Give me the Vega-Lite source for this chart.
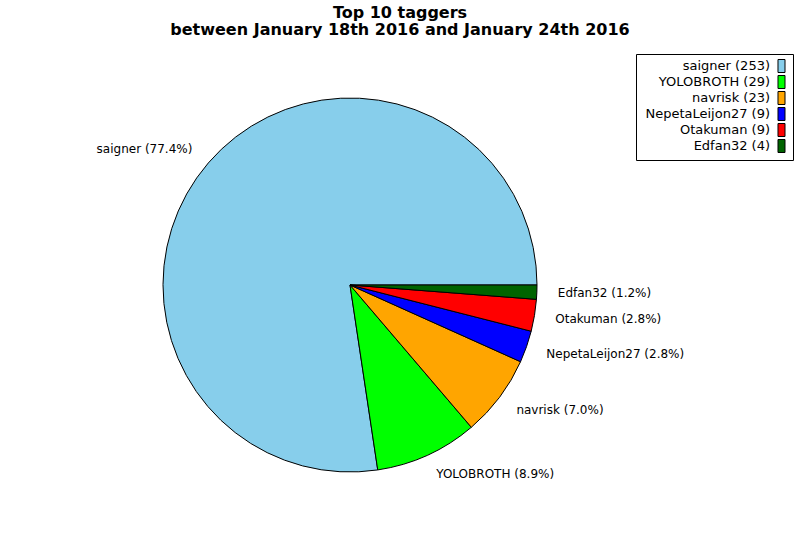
{
  "$schema": "https://vega.github.io/schema/vega-lite/v6.json",
  "autosize": {"type": "none"},
  "padding": {"left": 0, "top": 30, "right": 100, "bottom": 0},
  "width": 700,
  "height": 510,
  "background": "white",
  "title": {
    "text": ["Top 10 taggers", "between January 18th 2016 and January 24th 2016"],
    "font": "DejaVu Sans",
    "fontSize": 16,
    "fontWeight": "bold",
    "lineHeight": 17,
    "color": "black",
    "anchor": "middle",
    "dx": 50,
    "offset": -8
  },
  "data": {
    "values": [
      {"name": "saigner", "count": 253, "rank": 1, "legend": "saigner (253)", "label": "saigner (77.4%)"},
      {"name": "YOLOBROTH", "count": 29, "rank": 2, "legend": "YOLOBROTH (29)", "label": "YOLOBROTH (8.9%)"},
      {"name": "navrisk", "count": 23, "rank": 3, "legend": "navrisk (23)", "label": "navrisk (7.0%)"},
      {"name": "NepetaLeijon27", "count": 9, "rank": 4, "legend": "NepetaLeijon27 (9)", "label": "NepetaLeijon27 (2.8%)"},
      {"name": "Otakuman", "count": 9, "rank": 5, "legend": "Otakuman (9)", "label": "Otakuman (2.8%)"},
      {"name": "Edfan32", "count": 4, "rank": 6, "legend": "Edfan32 (4)", "label": "Edfan32 (1.2%)"}
    ]
  },
  "encoding": {
    "theta": {"field": "count", "type": "quantitative", "stack": true,
      "scale": {"range": [7.853981633974483, 1.5707963267948966]}},
    "order": {"field": "rank", "type": "quantitative", "sort": "ascending"}
  },
  "layer": [
    {
      "mark": {"type": "arc", "outerRadius": 187, "stroke": "black", "strokeWidth": 1},
      "encoding": {
        "color": {
          "field": "legend", "type": "nominal",
          "scale": {
            "domain": ["saigner (253)", "YOLOBROTH (29)", "navrisk (23)", "NepetaLeijon27 (9)", "Otakuman (9)", "Edfan32 (4)"],
            "range": ["#87CEEB", "#00FF00", "#FFA500", "#0000FF", "#FF0000", "#006400"]
          },
          "legend": {
            "title": null,
            "orient": "none",
            "legendX": 636,
            "legendY": 24,
            "strokeColor": "black",
            "fillColor": "white",
            "padding": 5,
            "labelFont": "DejaVu Sans",
            "labelFontSize": 13,
            "labelColor": "black",
            "labelAlign": "right",
            "labelOffset": -18.5,
            "labelLimit": 300,
            "symbolOffset": 133.5,
            "symbolType": "M-0.54,-1H0.54V1H-0.54Z",
            "symbolSize": 169,
            "symbolStrokeColor": "black",
            "symbolStrokeWidth": 1,
            "symbolOpacity": 1,
            "rowPadding": -3
          }
        }
      }
    },
    {
      "mark": {
        "type": "text",
        "radius": 208,
        "font": "DejaVu Sans",
        "fontSize": 12,
        "color": "black",
        "baseline": "middle",
        "align": {"expr": "datum.name === 'saigner' ? 'right' : 'left'"}
      },
      "encoding": {
        "text": {"field": "label", "type": "nominal"}
      }
    }
  ],
  "config": {
    "view": {"stroke": null},
    "font": "DejaVu Sans"
  }
}
